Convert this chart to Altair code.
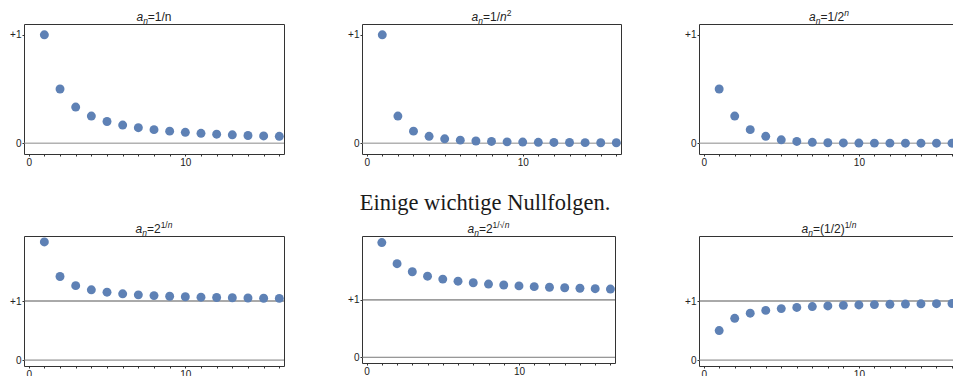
import altair as alt
import pandas as pd

# Index of the sequence members
n_values = list(range(1, 17))

# Sequence values a_n for n = 1..16
seq_inv_n = [1.0, 0.5, 0.333, 0.25, 0.2, 0.167, 0.143, 0.125, 0.111, 0.1,
             0.091, 0.083, 0.077, 0.071, 0.067, 0.063]
seq_inv_n2 = [1.0, 0.25, 0.111, 0.063, 0.04, 0.028, 0.02, 0.016, 0.012, 0.01,
              0.008, 0.007, 0.006, 0.005, 0.004, 0.004]
seq_inv_2n = [0.5, 0.25, 0.125, 0.063, 0.031, 0.016, 0.008, 0.004, 0.002, 0.001,
              0.0005, 0.0002, 0.0001, 0.0001, 0.0, 0.0]
seq_2_root_n = [2.0, 1.414, 1.26, 1.189, 1.149, 1.122, 1.104, 1.091, 1.08, 1.072,
                1.065, 1.059, 1.055, 1.051, 1.047, 1.044]
seq_2_root_sqrt_n = [2.0, 1.632, 1.492, 1.414, 1.363, 1.327, 1.3, 1.277, 1.26, 1.245,
                     1.232, 1.221, 1.212, 1.204, 1.196, 1.189]
seq_half_root_n = [0.5, 0.707, 0.794, 0.841, 0.871, 0.891, 0.906, 0.917, 0.926, 0.933,
                   0.939, 0.944, 0.948, 0.952, 0.955, 0.958]

# Axis ticks and labels
x_tick_values = list(range(0, 17))
y_tick_values = [0, 1]

caption = "Einige wichtige Nullfolgen."

# Panel titles as (text, italic, role) pieces; role is base / sub / sup
titles = [
    [("a", True, "base"), ("n", True, "sub"), ("=1/n", False, "base")],
    [("a", True, "base"), ("n", True, "sub"), ("=1/", False, "base"), ("n", True, "base"), ("2", False, "sup")],
    [("a", True, "base"), ("n", True, "sub"), ("=1/2", False, "base"), ("n", True, "sup")],
    [("a", True, "base"), ("n", True, "sub"), ("=2", False, "base"), ("1/", False, "sup"), ("n", True, "sup")],
    [("a", True, "base"), ("n", True, "sub"), ("=2", False, "base"), ("1/\u221a", False, "sup"), ("n", True, "sup")],
    [("a", True, "base"), ("n", True, "sub"), ("=(1/2)", False, "base"), ("1/", False, "sup"), ("n", True, "sup")],
]

POINT_COLOR = "#5E81B5"
SANS = "Liberation Sans"
BASE_SIZE = 12
SCRIPT_SIZE = 8.5

# Arial-compatible advance widths (per 1000 em)
CHAR_W = {"a": 556, "n": 556, "=": 584, "1": 556, "/": 278, "2": 556,
          "(": 333, ")": 333, "\u221a": 600}


def seg_width(text, size):
    return sum(CHAR_W.get(c, 556) for c in text) * size / 1000.0


def title_layers(pieces, width):
    sizes = [BASE_SIZE if role == "base" else SCRIPT_SIZE for _, _, role in pieces]
    total = sum(seg_width(t, s) for (t, _, _), s in zip(pieces, sizes))
    x = width / 2.0 - total / 2.0
    layers = []
    for (text, italic, role), size in zip(pieces, sizes):
        dy = {"base": 0, "sub": 2.5, "sup": -5}[role]
        layers.append(
            alt.Chart(pd.DataFrame({"t": [text]})).mark_text(
                align="left", baseline="alphabetic", font=SANS,
                fontSize=size, fontStyle="italic" if italic else "normal",
                color="#222222",
            ).encode(x=alt.value(x), y=alt.value(-3 + dy), text="t:N")
        )
        x += seg_width(text, size)
    return layers


def panel(values, pieces, y_domain, lines, width, height, x_max=16.3, extra=None):
    df = pd.DataFrame({"n": n_values, "a": values})
    x_enc = alt.X(
        "n:Q",
        scale=alt.Scale(domain=[-0.3, x_max], nice=False, zero=False),
        axis=alt.Axis(
            values=x_tick_values,
            labelExpr="datum.value == 0 ? '0' : (datum.value == 10 ? '10' : '')",
            title=None,
        ),
    )
    y_enc = alt.Y(
        "a:Q",
        scale=alt.Scale(domain=y_domain, nice=False, zero=False),
        axis=alt.Axis(
            values=y_tick_values,
            labelExpr="datum.value == 1 ? '+1' : '0'",
            title=None,
        ),
    )
    rule_df = pd.DataFrame({"a": [v for v, _ in lines], "c": [c for _, c in lines]})
    rules = alt.Chart(rule_df).mark_rule(strokeWidth=1).encode(
        y=y_enc, color=alt.Color("c:N", scale=None)
    )
    points = alt.Chart(df).mark_circle(
        size=80, color=POINT_COLOR, opacity=1, clip=True
    ).encode(x=x_enc, y=y_enc)
    layers = [rules, points] + title_layers(pieces, width)
    if extra is not None:
        layers.append(extra)
    return alt.layer(*layers).properties(width=width, height=height)


caption_layer = alt.Chart(pd.DataFrame({"t": [caption]})).mark_text(
    align="center", baseline="alphabetic", font="Liberation Serif",
    fontSize=22.5, color="#1a1a1a",
).encode(x=alt.value(123), y=alt.value(186), text="t:N")

top_lines = [(0, "#8a8a8a")]
bottom_lines = [(0, "#7a7a7a"), (1, "#555555")]

panels = [
    panel(seq_inv_n, titles[0], [-0.1, 1.1], top_lines, 260, 130),
    panel(seq_inv_n2, titles[1], [-0.1, 1.1], top_lines, 259, 130, extra=caption_layer),
    panel(seq_inv_2n, titles[2], [-0.1, 1.1], top_lines, 260, 130, x_max=16.45),
    panel(seq_2_root_n, titles[3], [-0.1, 2.1], bottom_lines, 260, 130),
    panel(seq_2_root_sqrt_n, titles[4], [-0.1, 2.115], bottom_lines, 253, 127),
    panel(seq_half_root_n, titles[5], [-0.1, 2.1], bottom_lines, 260, 130, x_max=16.45),
]

chart = alt.concat(
    *panels, columns=3, spacing={"row": 82, "column": 78},
    bounds="flush", center=True,
).properties(
    autosize=alt.AutoSizeParams(type="none"),
    padding={"left": 24, "top": 24, "right": 929, "bottom": 352},
).configure_view(
    stroke="#333333", strokeWidth=1
).configure_axis(
    labelFont=SANS, labelFontSize=10, labelColor="#222222",
    tickColor="#333333", tickSize=2, labelPadding=1,
    grid=False, domain=False,
).configure_axisY(
    labelPadding=1
)

chart.save("out.html", embed_options={"renderer": "svg", "actions": False})
